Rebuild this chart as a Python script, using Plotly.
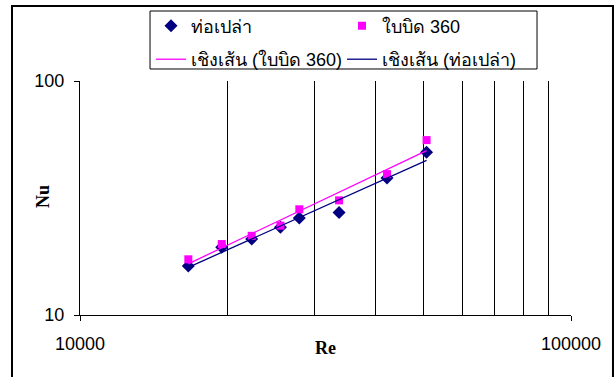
import numpy as np
import plotly.graph_objects as go

# Reynolds number and measured Nusselt numbers
re_vals = [16620, 19440, 22370, 25600, 27970, 33700, 42200, 50800]
nu_plain = [16.2, 19.5, 21.1, 23.7, 26.0, 27.4, 38.5, 49.6]      # ท่อเปล่า
nu_twist = [17.3, 20.1, 21.8, 24.1, 28.3, 30.9, 40.0, 55.9]      # ใบบิด 360

x_ticks = [10000, 100000]
x_minor = [20000, 30000, 40000, 50000, 60000, 70000, 80000, 90000]
y_ticks = [10, 100]

NAVY = "#000080"
MAGENTA = "#FF00FF"
SANS = "Liberation Sans, Arial, sans-serif"
SERIF = "Liberation Serif, Times New Roman, serif"


def power_fit(x, y):
    """Least-squares power trend y = a*x^b, evaluated over the data range."""
    lx, ly = np.log10(x), np.log10(y)
    b, la = np.polyfit(lx, ly, 1)
    xs = np.array([min(x), max(x)], dtype=float)
    return xs, 10 ** la * xs ** b


fit_plain_x, fit_plain_y = power_fit(re_vals, nu_plain)
fit_twist_x, fit_twist_y = power_fit(re_vals, nu_twist)

fig = go.Figure()
fig.add_trace(go.Scatter(
    x=re_vals, y=nu_plain, mode="markers", name="ท่อเปล่า",
    marker=dict(symbol="diamond", size=10, color=NAVY), legend="legend2"))
fig.add_trace(go.Scatter(
    x=re_vals, y=nu_twist, mode="markers", name="ใบบิด 360",
    marker=dict(symbol="square", size=8, color=MAGENTA), legend="legend2"))
fig.add_trace(go.Scatter(
    x=fit_twist_x, y=fit_twist_y, mode="lines", name="เชิงเส้น (ใบบิด 360)",
    line=dict(color=MAGENTA, width=1.3), legend="legend3"))
fig.add_trace(go.Scatter(
    x=fit_plain_x, y=fit_plain_y, mode="lines", name="เชิงเส้น (ท่อเปล่า)",
    line=dict(color=NAVY, width=1.3), legend="legend3"))

legend_common = dict(
    orientation="h", xanchor="left", yanchor="top",
    bgcolor="rgba(0,0,0,0)", borderwidth=0,
    entrywidth=146, entrywidthmode="pixels",
    font=dict(family=SANS, size=18, color="black"),
)

fig.update_layout(
    width=616, height=377,
    margin=dict(l=80, r=45, t=81, b=62, autoexpand=False),
    paper_bgcolor="white", plot_bgcolor="white",
    font=dict(family=SANS, size=18, color="black"),
    showlegend=True,
    legend2=dict(x=0.1446, y=1.3141, **legend_common),
    legend3=dict(x=0.1446, y=1.1709, **legend_common),
    xaxis=dict(
        type="log", range=[4, 5],
        tickvals=x_ticks, ticktext=[str(v) for v in x_ticks],
        ticks="outside", ticklen=5, tickcolor="black",
        ticklabelstandoff=7,
        showline=True, linecolor="black", linewidth=1, mirror=False,
        showgrid=True, gridcolor="#9a9a9a", gridwidth=1,
        minor=dict(tickvals=x_minor, showgrid=True, gridcolor="black",
                   gridwidth=1, ticks=""),
        zeroline=False, automargin=False,
    ),
    yaxis=dict(
        type="log", range=[1, 2],
        tickvals=y_ticks, ticktext=[str(v) for v in y_ticks],
        ticks="outside", ticklen=5, tickcolor="black",
        ticklabelstandoff=6,
        showline=True, linecolor="black", linewidth=1, mirror=False,
        showgrid=True, gridcolor="#9a9a9a", gridwidth=1,
        zeroline=False, automargin=False,
    ),
    annotations=[
        # axis titles
        dict(text="<b>Re</b>", xref="paper", yref="paper",
             x=0.5, y=-0.141, xanchor="center", yanchor="middle",
             showarrow=False, font=dict(family=SERIF, size=18)),
        dict(text="<b>Nu</b>", xref="paper", yref="paper",
             x=-0.0754, y=0.5085, xanchor="center", yanchor="middle",
             textangle=-90, showarrow=False,
             font=dict(family=SERIF, size=18)),
    ],
    shapes=[
        # outer chart frame
        dict(type="rect", xref="paper", yref="paper",
             x0=-0.1385, x1=1.0855, y0=-0.35, y1=1.3205,
             line=dict(color="black", width=2), layer="below"),
        # legend frame
        dict(type="rect", xref="paper", yref="paper",
             x0=0.1426, x1=0.9308, y0=1.0513, y1=1.2991,
             line=dict(color="black", width=1), fillcolor="white",
             layer="below"),
    ],
)

fig.write_html("out.html")
